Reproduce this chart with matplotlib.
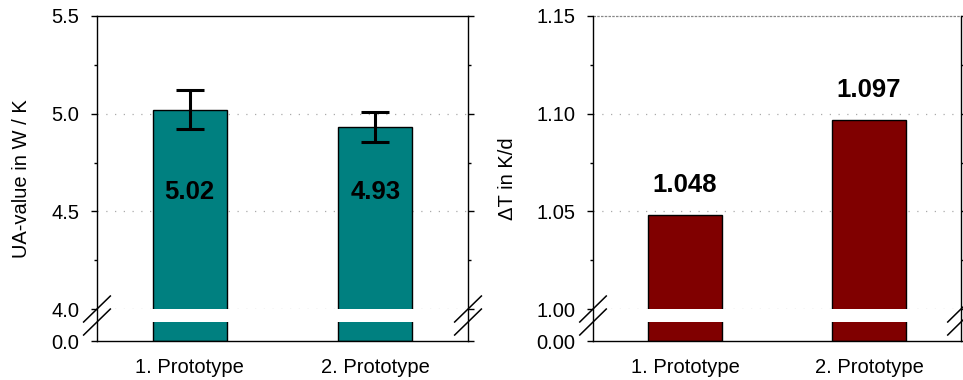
import numpy as np
import matplotlib
matplotlib.use("Agg")
import matplotlib.pyplot as plt

plt.rcParams['font.family'] = ['Liberation Sans', 'DejaVu Sans']

# Messwerte
prototypen = ['1. Prototype', '2. Prototype']
ua_werte = [5.02, 4.93]
ua_fehler = [0.10, 0.077]
dt_werte = [1.048, 1.097]

ua_ticks = [0.0, 4.0, 4.5, 5.0, 5.5]
ua_minor = [4.25, 4.75, 5.25]
dt_ticks = [0.00, 1.00, 1.05, 1.10, 1.15]
dt_minor = [1.025, 1.075, 1.125]


def bruch_skala(b, spanne):
    # 0..b wird auf einen kurzen Streifen unter b gestaucht
    f0 = b - 0.1092 * spanne
    k = (b - f0) / b

    def vor(v):
        v = np.asarray(v, dtype=float)
        return np.where(v >= b, v, f0 + v * k)

    def zurueck(u):
        u = np.asarray(u, dtype=float)
        return np.where(u >= b, u, (u - f0) / k)

    luecke = float(zurueck(b - 0.0444 * spanne))
    return vor, zurueck, luecke, f0


def achse_einrichten(ax, b, oben, ticks, minor, fmt):
    spanne = oben - b
    vor, zurueck, luecke, f0 = bruch_skala(b, spanne)
    ax.set_yscale('function', functions=(vor, zurueck))
    ax.set_ylim(0, oben)
    ax.set_xlim(-0.5, 1.5)
    ax.set_yticks(ticks)
    ax.set_yticklabels([fmt.format(t) for t in ticks])
    ax.set_yticks(minor, minor=True)
    ax.tick_params(axis='y', which='both', direction='out', left=True, right=True,
                   labelsize=14.5, pad=8, width=1)
    ax.tick_params(axis='y', which='major', length=4.5)
    ax.tick_params(axis='y', which='minor', length=2.5)
    ax.tick_params(axis='x', length=0, labelsize=14.5, pad=12)
    ax.set_xticks([0, 1])
    ax.set_xticklabels(prototypen)
    for s in ax.spines.values():
        s.set_linewidth(1)
    # weisse Luecke und Bruchzeichen
    ax.axhspan(luecke, b, color='white', zorder=2, lw=0)
    y_b = (b - f0) / (oben - f0)
    y_l = (b - 0.0444 * spanne - f0) / (oben - f0)
    for xs in (0, 1):
        for ys in (y_b, y_l):
            ax.plot([xs - 0.036, xs + 0.036], [ys - 0.04, ys + 0.04], color='black',
                    lw=1.1, transform=ax.transAxes, clip_on=False, zorder=5)
    return luecke


fig = plt.figure(figsize=(9.63, 3.80), dpi=100)
ax1 = fig.add_axes([0.1007, 0.1026, 0.3853, 0.8553])
ax2 = fig.add_axes([0.6158, 0.1026, 0.3821, 0.8553])

x = np.arange(len(prototypen))

# UA-Wert
achse_einrichten(ax1, 4.0, 5.5, ua_ticks, ua_minor, '{:.1f}')
for t in ua_ticks[1:-1]:
    ax1.axhline(t, color='#aaaaaa', lw=0.9, ls=(0, (1, 6)), zorder=0)
ax1.bar(x, ua_werte, width=0.4, color='#008080', edgecolor='black', lw=1, zorder=1)
ax1.errorbar(x, ua_werte, yerr=ua_fehler, fmt='none', ecolor='black',
             elinewidth=2.2, capsize=10, capthick=2.2, zorder=3)
for xi, v in zip(x, ua_werte):
    ax1.text(xi, 4.6, f'{v:.2f}', ha='center', va='center', fontsize=18.5,
             fontweight='bold', zorder=4)
ax1.set_ylabel('UA-value in W / K', fontsize=14.5, labelpad=15)

# Temperaturabfall
achse_einrichten(ax2, 1.0, 1.15, dt_ticks, dt_minor, '{:.2f}')
ax2.spines['top'].set_visible(False)
for t in dt_ticks[1:-1]:
    ax2.axhline(t, color='#aaaaaa', lw=0.9, ls=(0, (1, 6)), zorder=0)
ax2.axhline(dt_ticks[-1], color='#888888', lw=0.9, ls=(0, (2, 1)), zorder=0, clip_on=False)
ax2.bar(x, dt_werte, width=0.4, color='#800000', edgecolor='black', lw=1, zorder=1)
for xi, v in zip(x, dt_werte):
    ax2.annotate(f'{v:.3f}', (xi, v), xytext=(0, 21.5), textcoords='offset points',
                 ha='center', va='center', fontsize=18.5, fontweight='bold')
ax2.set_ylabel('ΔT in K/d', fontsize=14.5, labelpad=14)

fig.savefig('out.png', dpi=100)
